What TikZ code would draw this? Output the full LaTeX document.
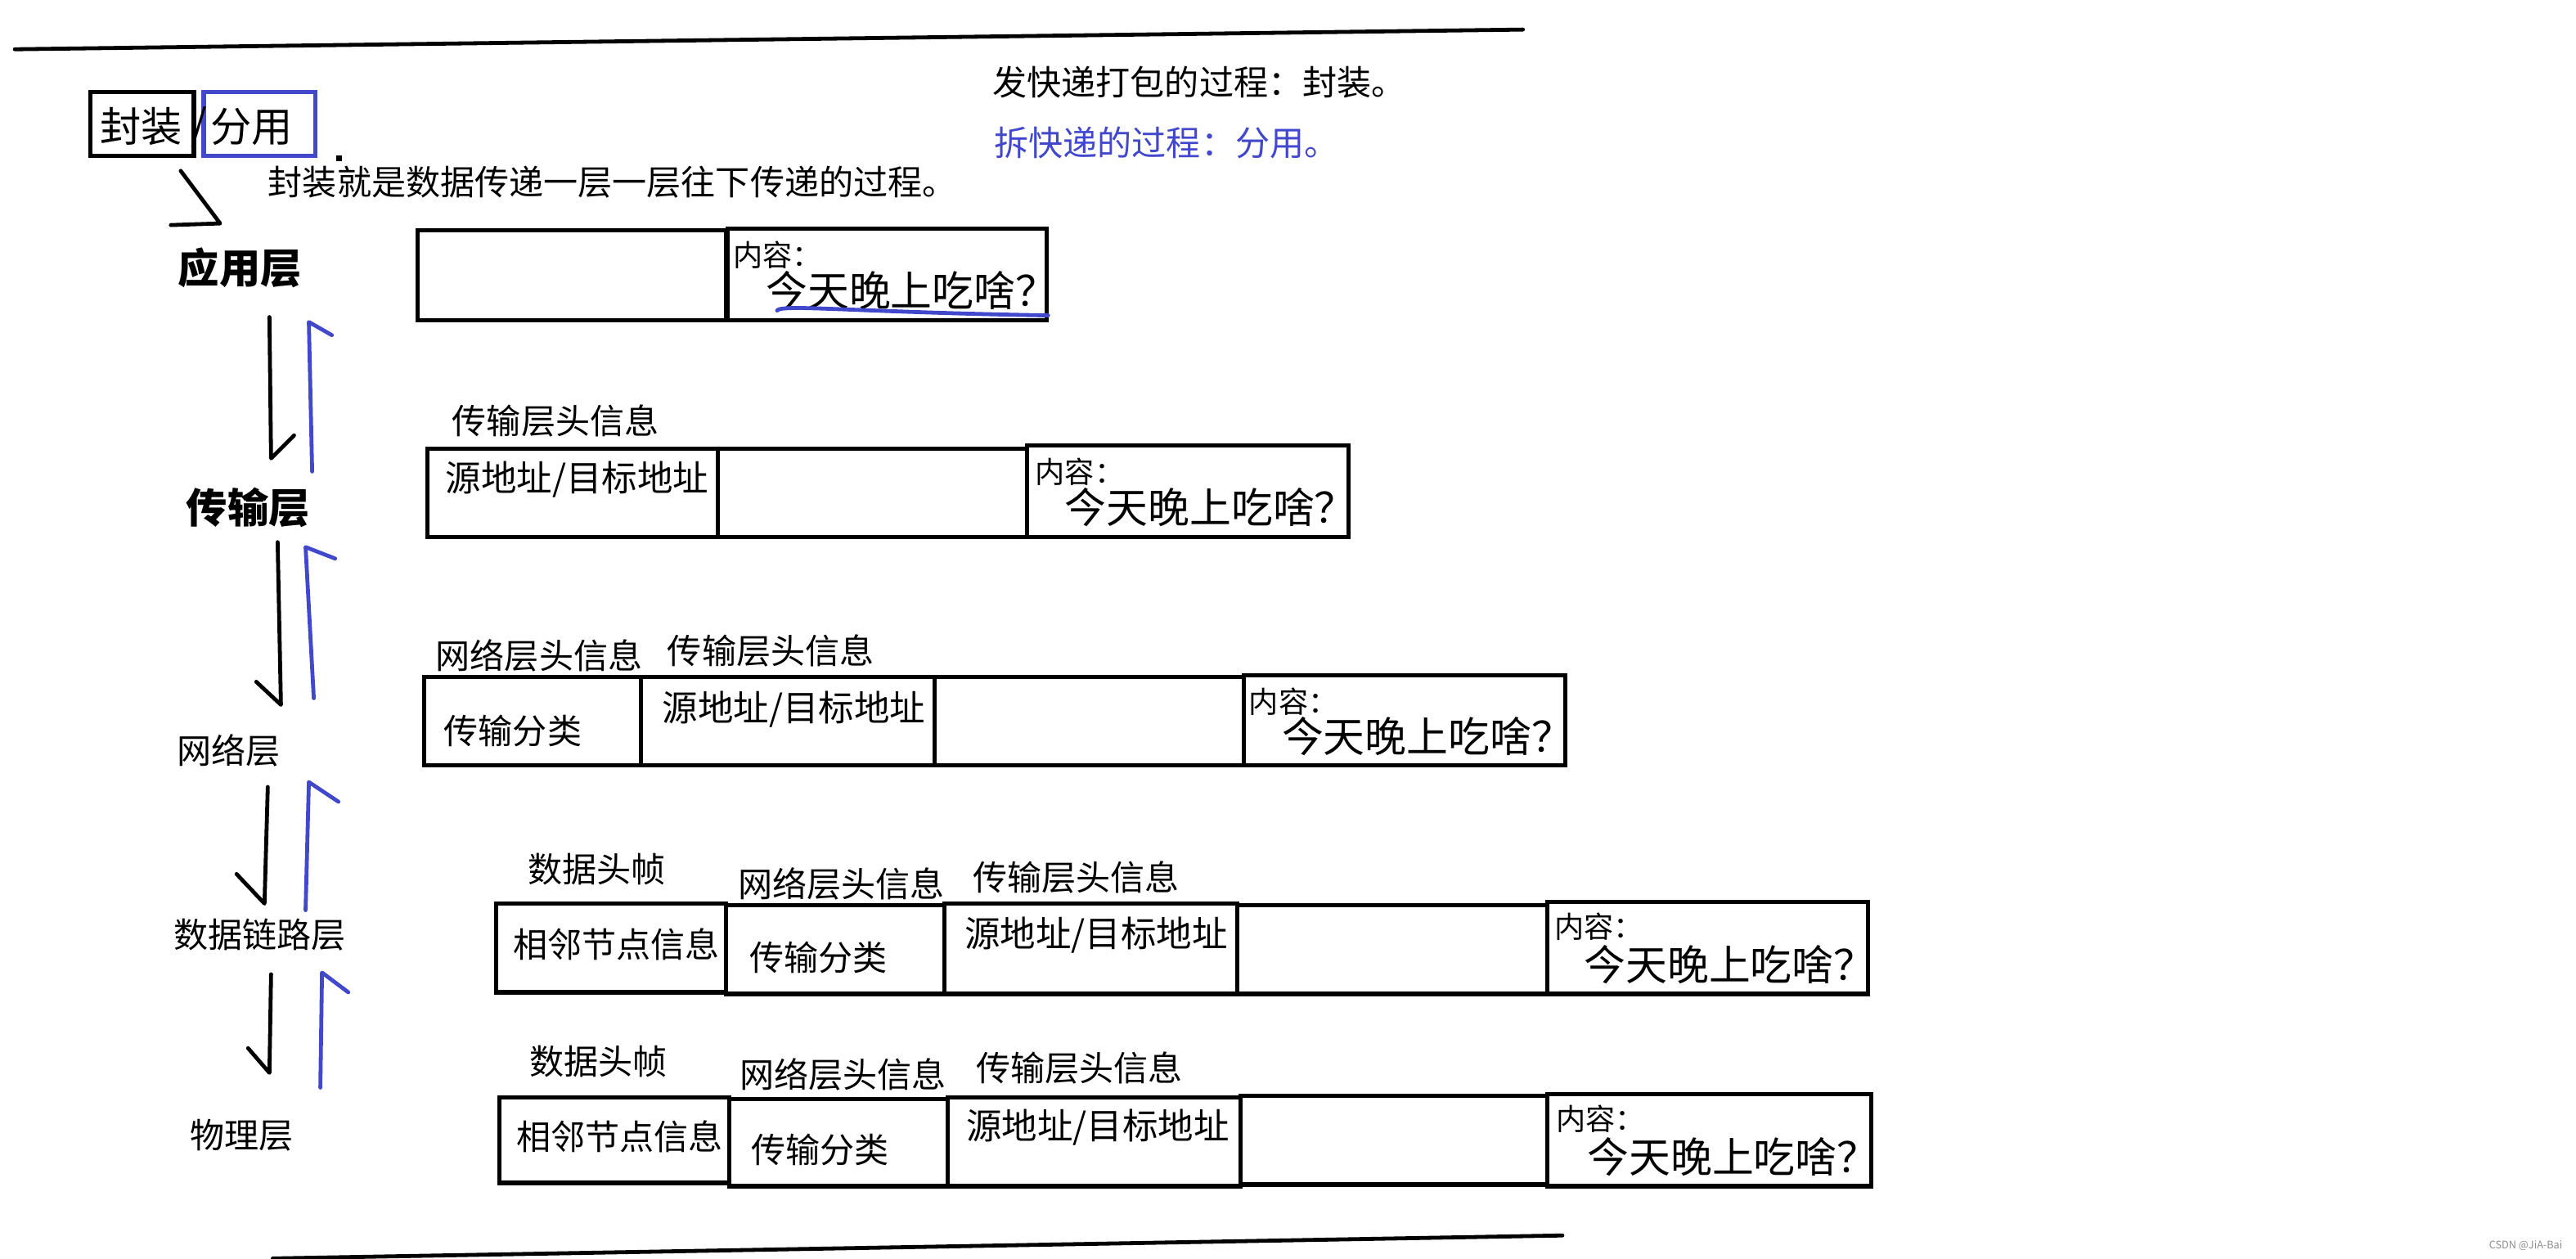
\documentclass[tikz,border=0pt]{standalone}
\usepackage{fontspec}
\setmainfont{Noto Sans CJK SC}
\usetikzlibrary{fit,positioning}
\definecolor{penblue}{RGB}{66,72,204}
\newcommand\fsz[1]{\fontsize{#1}{#1}\selectfont}
\tikzset{
  pkt/.style={draw, line width=1.8pt, inner sep=0pt},
  txt/.style={anchor=west, inner sep=0pt, font=\fsz{14.9pt}},
  big/.style={anchor=west, inner sep=0pt, font=\fsz{18pt}},
  addr/.style={anchor=west, inner sep=0pt, font=\fsz{15.4pt}},
  small/.style={anchor=west, inner sep=0pt, font=\fsz{12.8pt}},
  layer/.style={inner sep=0pt, font=\fsz{14.9pt}},
  hook/.style={line width=1.7pt, line cap=round, line join=round},
}

\begin{document}
\begin{tikzpicture}[x=0.025cm, y=-0.025cm]
\useasboundingbox (0,0) rectangle (1568,766);

% top and bottom strokes
\coordinate (top1) at (9,30);
\coordinate (top2) at (927,18);
\coordinate (bot1) at (166,766);
\coordinate (bot2) at (951,752);
\draw[hook] (top1) -- (top2);
\draw[hook] (bot1) -- (bot2);

% title
\node (fz) [pkt, fit={(55,56) (118,95)}] {};
\node (fy) [pkt, draw=penblue, fit={(124,56) (192,95)}] {};
\node (fzt) [layer, font=\fsz{17.8pt}] at (86,77) {封装};
\node (slash) [layer, font=\fsz{17.8pt}] at (121,77) {/};
\node (fyt) [layer, font=\fsz{17.8pt}] at (153,77) {分用};
\fill (204.5,94.5) rectangle (208,98);
\draw[hook] (110,104) -- (134,136) -- (104,137);
\node (desc) [txt] at (163,111) {封装就是数据传递一层一层往下传递的过程。};
\node (pack) [txt] at (604,50) {发快递打包的过程：封装。};
\node (unpack) [txt, text=penblue] at (605,87) {拆快递的过程：分用。};

% layers
\node (app) [layer, font=\fsz{17.8pt}\bfseries] at (146,163) {应用层};
\node (trans) [layer, font=\fsz{17.8pt}\bfseries] at (151,309) {传输层};
\node (net) [layer] at (139,457) {网络层};
\node (link) [layer] at (158,569) {数据链路层};
\node (phys) [layer] at (147,691) {物理层};

% down / up strokes
\draw[hook] (164,193) -- (165,279) -- (179,265);
\draw[hook] (169,330) -- (171,429) -- (156,415);
\draw[hook] (163,479) -- (161,550) -- (144,532);
\draw[hook] (165,593) -- (164,653) -- (151,638);
\draw[hook, penblue] (190,287) -- (188,196) -- (202,204);
\draw[hook, penblue] (191,425) -- (186,333) -- (204,340);
\draw[hook, penblue] (186,554) -- (188,476) -- (206,488);
\draw[hook, penblue] (195,662) -- (196,592) -- (212,604);

% application layer
\node (r1a) [pkt, fit={(254,140) (442,195)}] {};
\node (r1b) [pkt, fit={(443,139) (637,195)}] {};
\node (r1k) [small] at (446,155) {内容：};
\node (r1m) [big] at (466,177) {今天晚上吃啥？};
\coordinate (ul1) at (473,189);
\coordinate (ul2) at (638,192);
\draw[hook, penblue] (ul1) .. controls (476,185) and (520,190) .. (ul2);

% transport layer
\node (h2a) [txt] at (275,256) {传输层头信息};
\node (r2a) [pkt, fit={(260,273) (437,327)}] {};
\node (r2b) [pkt, fit={(437,273) (625,327)}] {};
\node (r2c) [pkt, fit={(625,271) (821,327)}] {};
\node (r2at) [addr] at (271,292) {源地址/目标地址};
\node (r2k) [small] at (630,287) {内容：};
\node (r2m) [big] at (648,309) {今天晚上吃啥？};

% network layer
\node (h3a) [txt] at (265,399) {网络层头信息};
\node (h3b) [txt] at (406,396) {传输层头信息};
\node (r3a) [pkt, fit={(258,412) (390,466)}] {};
\node (r3b) [pkt, fit={(390,412) (569,466)}] {};
\node (r3c) [pkt, fit={(569,412) (757,466)}] {};
\node (r3d) [pkt, fit={(757,411) (953,466)}] {};
\node (r3at) [txt] at (270,445) {传输分类};
\node (r3bt) [addr] at (403,432) {源地址/目标地址};
\node (r3k) [small] at (760,427) {内容：};
\node (r3m) [big] at (780,448) {今天晚上吃啥？};

% data link layer
\node (h4a) [txt] at (321,529) {数据头帧};
\node (h4b) [txt] at (449,538) {网络层头信息};
\node (h4c) [txt] at (592,534) {传输层头信息};
\node (r4a) [pkt, fit={(302,550) (442,604)}] {};
\node (r4b) [pkt, fit={(442,551) (575,605)}] {};
\node (r4c) [pkt, fit={(575,550) (753,605)}] {};
\node (r4d) [pkt, fit={(753,551) (942,605)}] {};
\node (r4e) [pkt, fit={(942,549) (1137,605)}] {};
\node (r4at) [txt] at (312,575) {相邻节点信息};
\node (r4bt) [txt] at (456,583) {传输分类};
\node (r4ct) [addr] at (587,569) {源地址/目标地址};
\node (r4k) [small] at (946,564) {内容：};
\node (r4m) [big] at (964,587) {今天晚上吃啥？};

% physical layer
\node (h5a) [txt] at (322,646) {数据头帧};
\node (h5b) [txt] at (450,654) {网络层头信息};
\node (h5c) [txt] at (594,650) {传输层头信息};
\node (r5a) [pkt, fit={(304,668) (444,720)}] {};
\node (r5b) [pkt, fit={(444,669) (577,722)}] {};
\node (r5c) [pkt, fit={(577,668) (755,722)}] {};
\node (r5d) [pkt, fit={(755,667) (942,721)}] {};
\node (r5e) [pkt, fit={(942,666) (1139,722)}] {};
\node (r5at) [txt] at (314,692) {相邻节点信息};
\node (r5bt) [txt] at (457,700) {传输分类};
\node (r5ct) [addr] at (588,686) {源地址/目标地址};
\node (r5k) [small] at (947,681) {内容：};
\node (r5m) [big] at (966,704) {今天晚上吃啥？};

\node (mark) [anchor=east, inner sep=0pt, text=black!45, font=\fsz{4.5pt}] at (1560,758) {CSDN @JiA-Bai};
\end{tikzpicture}
\end{document}
